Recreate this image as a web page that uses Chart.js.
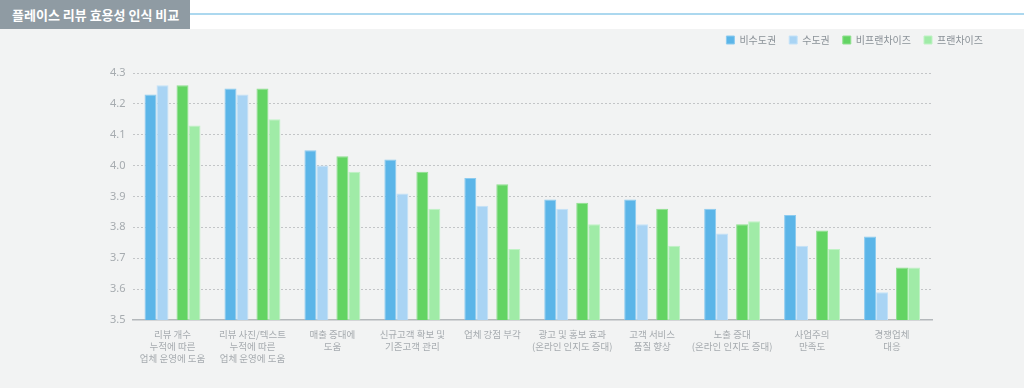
<!DOCTYPE html>
<html>
<head>
<meta charset="utf-8">
<script src="https://cdn.jsdelivr.net/npm/chart.js@4/dist/chart.umd.min.js"></script>
<style>
  body { margin: 0; width: 1024px; height: 388px; overflow: hidden; background: #f2f3f3; font-family: "Noto Sans CJK KR", sans-serif; position: relative; }
  .head { position: relative; height: 29px; background: #fff; }
  .head .box { position: absolute; left: 0; top: 0; width: 190px; height: 29px; background: #8f9ba3; color: #fff; font-size: 13px; font-weight: bold; line-height: 29px; padding-left: 12px; box-sizing: border-box; }
  .head .line { position: absolute; left: 190px; right: 0; top: 13px; height: 2px; background: #acd8ef; }
  .wrap { position: absolute; left: 0; top: 22px; width: 1024px; height: 366px; }
</style>
</head>
<body>
<div class="head"><div class="box">플레이스 리뷰 효용성 인식 비교</div><div class="line"></div></div>
<div class="wrap"><canvas id="chart"></canvas></div>
<script>
const categories = [
    ["리뷰 개수", "누적에 따른", "업체 운영에 도움"],
    ["리뷰 사진/텍스트", "누적에 따른", "업체 운영에 도움"],
    ["매출 증대에", "도움"],
    ["신규고객 확보 및", "기존고객 관리"],
    ["업체 강점 부각"],
    ["광고 및 홍보 효과", "(온라인 인지도 증대)"],
    ["고객 서비스", "품질 향상"],
    ["노출 증대", "(온라인 인지도 증대)"],
    ["사업주의", "만족도"],
    ["경쟁업체", "대응"]
];
const seriesNames = ["비수도권", "수도권", "비프랜차이즈", "프랜차이즈"];
const nonCapital = [4.23, 4.25, 4.05, 4.02, 3.96, 3.89, 3.89, 3.86, 3.84, 3.77];
const capital = [4.26, 4.23, 4.00, 3.91, 3.87, 3.86, 3.81, 3.78, 3.74, 3.59];
const nonFranchise = [4.26, 4.25, 4.03, 3.98, 3.94, 3.88, 3.86, 3.81, 3.79, 3.67];
const franchise = [4.13, 4.15, 3.98, 3.86, 3.73, 3.81, 3.74, 3.82, 3.73, 3.67];
const yTicks = [3.5, 3.6, 3.7, 3.8, 3.9, 4.0, 4.1, 4.2, 4.3];

const fills = ["#5bb5e8", "#a9d4f4", "#63d463", "#a0eba7"];
const edges = ["#8ccbef", "#c4e2f8", "#8fe08f", "#bff2c4"];
// outer bars sit in narrower slots so the two pairs get a gap between them
const catPct = [0.7333, 1.0, 1.0, 0.7333];
const barPct = [0.818, 0.6, 0.6, 0.818];

const values = [nonCapital, capital, nonFranchise, franchise];
const datasets = values.map((v, i) => ({
    label: seriesNames[i],
    data: v,
    backgroundColor: fills[i],
    borderColor: edges[i],
    borderWidth: 1,
    categoryPercentage: catPct[i],
    barPercentage: barPct[i]
}));

const legendGap = {
    id: "legendGap",
    beforeInit(chart) {
        const fit = chart.legend.fit;
        chart.legend.fit = function() {
            fit.bind(chart.legend)();
            this.height += 18;
        };
    }
};

const tickColor = "#a6abaf";
new Chart(document.getElementById("chart"), {
    type: "bar",
    data: { labels: categories, datasets: datasets },
    plugins: [legendGap],
    options: {
        responsive: true,
        maintainAspectRatio: false,
        animation: false,
        layout: { padding: { left: 103, right: 28, top: 0, bottom: 23 } },
        plugins: {
            tooltip: { enabled: false },
            legend: {
                align: "end",
                labels: {
                    boxWidth: 8,
                    boxHeight: 8,
                    padding: 13,
                    color: "#8a9197",
                    font: { family: "Noto Sans CJK KR", size: 10 }
                }
            }
        },
        scales: {
            x: {
                grid: { display: false },
                border: { display: true, color: "#b4b8bb", width: 1.5 },
                ticks: {
                    color: tickColor,
                    autoSkip: false,
                    maxRotation: 0,
                    padding: 0,
                    font: { family: "Noto Sans CJK KR", size: 9.5, lineHeight: 1.3 }
                }
            },
            y: {
                min: 3.5,
                max: 4.3,
                afterBuildTicks: axis => { axis.ticks = yTicks.map(v => ({ value: v })); },
                border: { display: false, dash: [2, 2] },
                grid: { color: "#c3c5c7", drawTicks: false },
                ticks: {
                    color: tickColor,
                    padding: 7,
                    callback: v => v.toFixed(1),
                    font: { family: "Noto Sans", size: 11 }
                }
            },
            pad: {
                position: "right",
                display: true,
                grid: { display: false },
                border: { display: false },
                ticks: { display: false },
                afterFit: axis => { axis.width = 64; }
            }
        }
    }
});
</script>
</body>
</html>
